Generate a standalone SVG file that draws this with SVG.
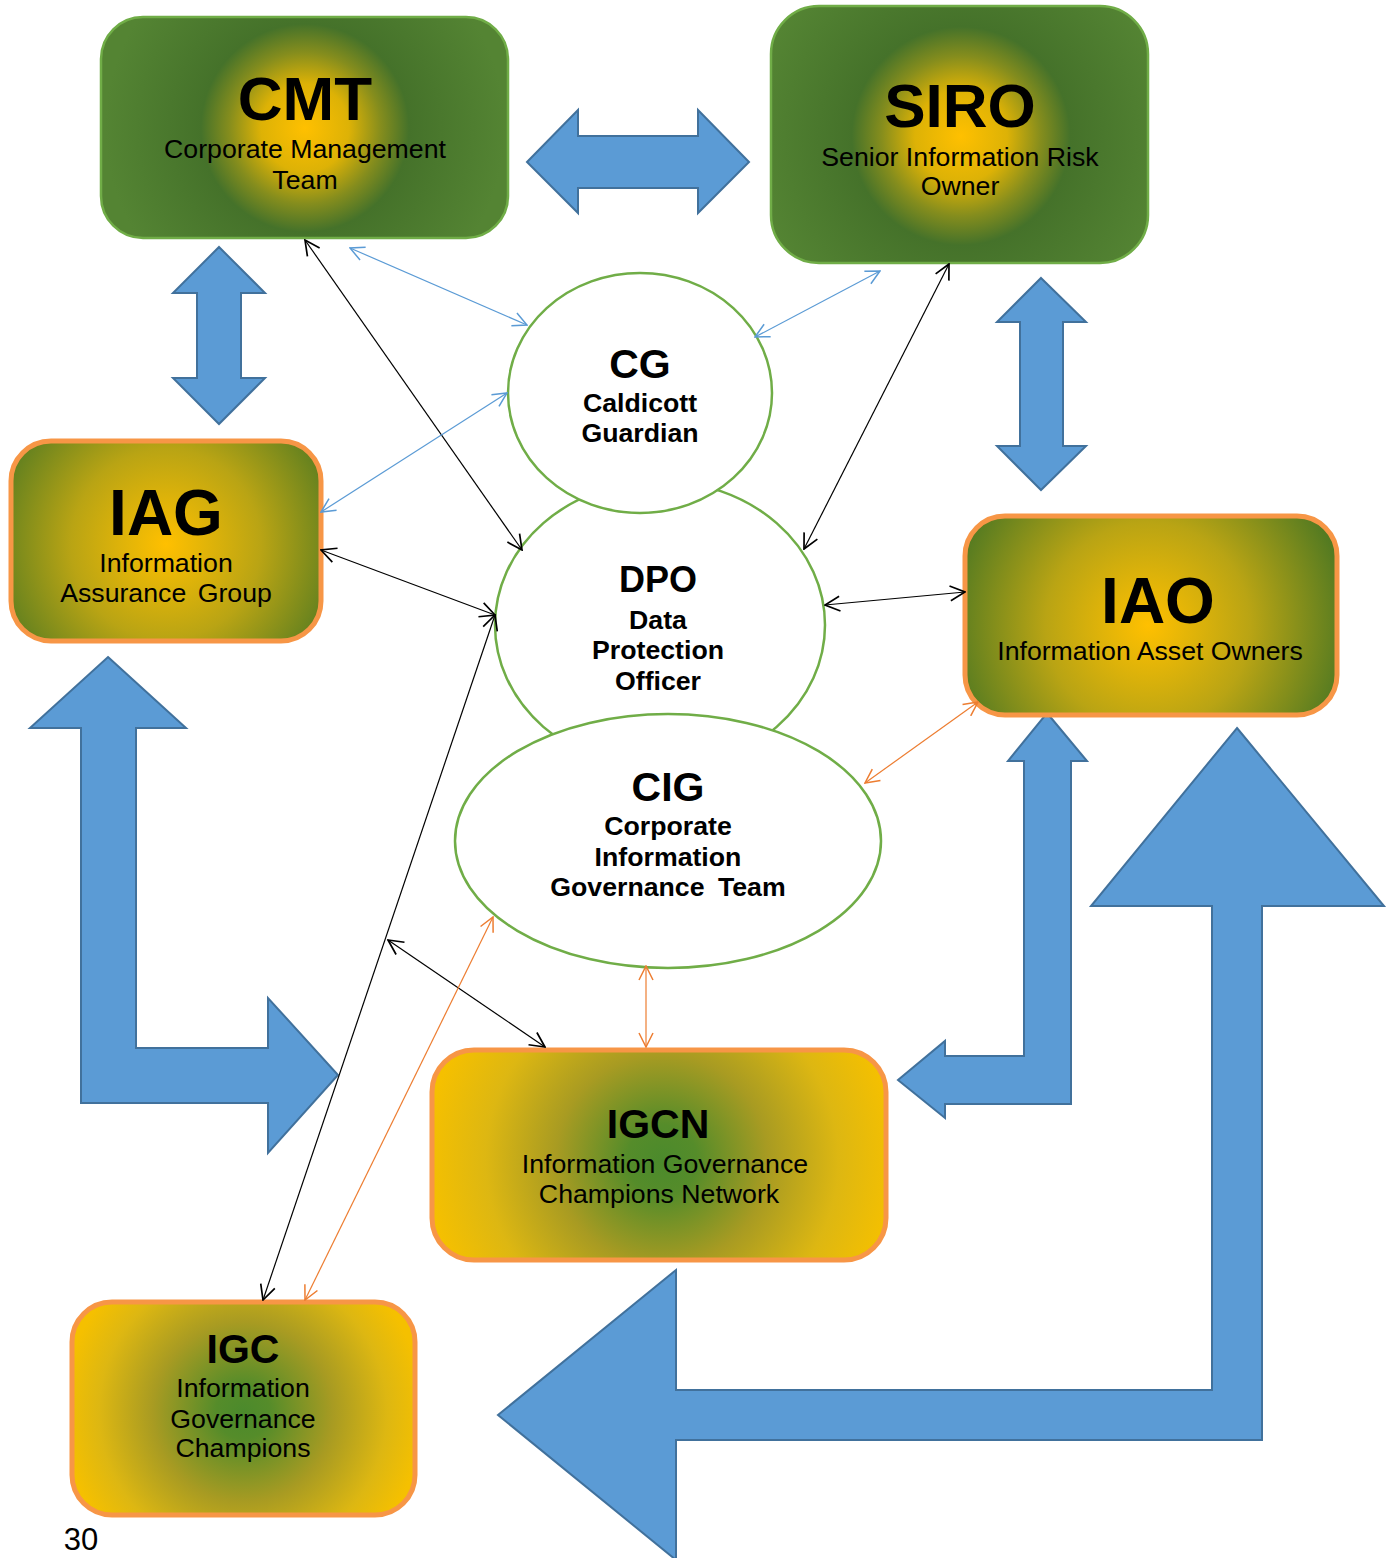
<svg xmlns="http://www.w3.org/2000/svg" width="1387" height="1558" viewBox="0 0 1387 1558">
<style>
.t{font-family:"Liberation Sans",Arial,sans-serif;fill:#000;text-anchor:middle}
.b{font-weight:bold}
.sub{font-size:26.7px}
.bigarrow{fill:#5B9BD5;stroke:#41719C;stroke-width:2;stroke-linejoin:miter}
.gbox{stroke:#70AD47;stroke-width:2.5}
.obox{stroke:#F79646;stroke-width:5}
.ell{fill:#fff;stroke:#70AD47;stroke-width:2.5}
.ck{stroke:#000;stroke-width:1.2;fill:none;marker-start:url(#mk);marker-end:url(#mk)}
.cb{stroke:#5B9BD5;stroke-width:1.2;fill:none;marker-start:url(#mb);marker-end:url(#mb)}
.co{stroke:#ED7D31;stroke-width:1.2;fill:none;marker-start:url(#mo);marker-end:url(#mo)}
</style>
<defs>
<marker id="mk" viewBox="0 0 16 16" refX="15" refY="8" markerWidth="17" markerHeight="17" markerUnits="userSpaceOnUse" orient="auto-start-reverse"><path d="M1,1 L15,8 L1,15" fill="none" stroke="#000" stroke-width="1.6"/></marker>
<marker id="mb" viewBox="0 0 16 16" refX="15" refY="8" markerWidth="16" markerHeight="16" markerUnits="userSpaceOnUse" orient="auto-start-reverse"><path d="M1,1 L15,8 L1,15" fill="none" stroke="#5B9BD5" stroke-width="1.5"/></marker>
<marker id="mo" viewBox="0 0 16 16" refX="15" refY="8" markerWidth="16" markerHeight="16" markerUnits="userSpaceOnUse" orient="auto-start-reverse"><path d="M1,1 L15,8 L1,15" fill="none" stroke="#ED7D31" stroke-width="1.5"/></marker>
<radialGradient id="gCMT" gradientUnits="userSpaceOnUse" cx="305" cy="128" r="200">
<stop offset="0" stop-color="#FFC000"/><stop offset="0.22" stop-color="#DDB206"/><stop offset="0.38" stop-color="#858D1D"/><stop offset="0.52" stop-color="#45722A"/><stop offset="1" stop-color="#548433"/>
</radialGradient>
<radialGradient id="gSIRO" gradientUnits="userSpaceOnUse" cx="961" cy="136" r="210">
<stop offset="0" stop-color="#FFC000"/><stop offset="0.22" stop-color="#DDB206"/><stop offset="0.38" stop-color="#858D1D"/><stop offset="0.52" stop-color="#45722A"/><stop offset="1" stop-color="#548433"/>
</radialGradient>
<radialGradient id="gIAG" gradientUnits="userSpaceOnUse" cx="166" cy="544" r="190">
<stop offset="0" stop-color="#FFC000"/><stop offset="0.5" stop-color="#B9A414"/><stop offset="1" stop-color="#4E7822"/>
</radialGradient>
<radialGradient id="gIAO" gradientUnits="userSpaceOnUse" cx="1148" cy="625" r="205">
<stop offset="0" stop-color="#FFC000"/><stop offset="0.5" stop-color="#B9A414"/><stop offset="1" stop-color="#4E7822"/>
</radialGradient>
<radialGradient id="gIGCN" gradientUnits="userSpaceOnUse" cx="662" cy="1160" r="235">
<stop offset="0" stop-color="#4B8A2C"/><stop offset="0.15" stop-color="#558C2A"/><stop offset="0.45" stop-color="#A89B22"/><stop offset="0.75" stop-color="#DDB712"/><stop offset="1" stop-color="#F5C000"/>
</radialGradient>
<radialGradient id="gIGC" gradientUnits="userSpaceOnUse" cx="243" cy="1412" r="180">
<stop offset="0" stop-color="#4B8A2C"/><stop offset="0.15" stop-color="#558C2A"/><stop offset="0.5" stop-color="#A89B22"/><stop offset="0.8" stop-color="#DDB712"/><stop offset="1" stop-color="#F5C000"/>
</radialGradient>
</defs>

<g id="block-arrows">
<polygon class="bigarrow" points="527,162 578,110 578,136 698,136 698,110 749,162 698,213 698,188 578,188 578,213"/>
<polygon class="bigarrow" points="219,247 265,293 241,293 241,378 265,378 219,424 173,378 197,378 197,293 173,293"/>
<polygon class="bigarrow" points="1041,278 1086,322 1063,322 1063,446 1086,446 1041,490 997,446 1020,446 1020,322 997,322"/>
<polygon class="bigarrow" points="108,657 186,728 136,728 136,1048 268,1048 268,998 338,1075 268,1153 268,1103 81,1103 81,728 30,728"/>
<polygon class="bigarrow" points="1047,713 1087,761 1071,761 1071,1104 945,1104 945,1118 898,1080 945,1041 945,1056 1024,1056 1024,761 1008,761"/>
<polygon class="bigarrow" points="1237,728 1384,906 1262,906 1262,1440 676,1440 676,1560 498,1415 676,1270 676,1390 1212,1390 1212,906 1091,906"/>
</g>

<g id="CMT">
<rect class="gbox" x="101" y="17" width="407" height="221" rx="42" fill="url(#gCMT)"/>
<text class="t b" x="305" y="120" font-size="62">CMT</text>
<text class="t sub" x="305" y="158">Corporate Management</text>
<text class="t sub" x="305" y="189">Team</text>
</g>

<g id="SIRO">
<rect class="gbox" x="771" y="6" width="377" height="257" rx="48" fill="url(#gSIRO)"/>
<text class="t b" x="960" y="127" font-size="62">SIRO</text>
<text class="t sub" x="960" y="166">Senior Information Risk</text>
<text class="t sub" x="960" y="195">Owner</text>
</g>

<g id="IAG">
<rect class="obox" x="11" y="441" width="310" height="200" rx="40" fill="url(#gIAG)"/>
<text class="t b" x="166" y="535" font-size="64">IAG</text>
<text class="t sub" x="166" y="572">Information</text>
<text class="t sub" x="166" y="602" word-spacing="4">Assurance Group</text>
</g>

<g id="IAO">
<rect class="obox" x="965" y="516" width="372" height="199" rx="40" fill="url(#gIAO)"/>
<text class="t b" x="1158" y="623" font-size="64">IAO</text>
<text class="t sub" x="1150" y="660">Information Asset Owners</text>
</g>

<g id="DPO">
<ellipse class="ell" cx="660" cy="625" rx="165" ry="144"/>
<text class="t b" x="658" y="592" font-size="36">DPO</text>
<text class="t b sub" x="658" y="629">Data</text>
<text class="t b sub" x="658" y="659">Protection</text>
<text class="t b sub" x="658" y="690">Officer</text>
</g>

<g id="CG">
<ellipse class="ell" cx="640" cy="393" rx="132" ry="120"/>
<text class="t b" x="640" y="378" font-size="41">CG</text>
<text class="t b sub" x="640" y="412">Caldicott</text>
<text class="t b sub" x="640" y="442">Guardian</text>
</g>

<g id="CIG">
<ellipse class="ell" cx="668" cy="841" rx="213" ry="127"/>
<text class="t b" x="668" y="801" font-size="41">CIG</text>
<text class="t b sub" x="668" y="835">Corporate</text>
<text class="t b sub" x="668" y="866">Information</text>
<text class="t b sub" x="668" y="896" word-spacing="6">Governance Team</text>
</g>

<g id="IGCN">
<rect class="obox" x="432" y="1050" width="454" height="210" rx="42" fill="url(#gIGCN)"/>
<text class="t b" x="658" y="1138" font-size="41">IGCN</text>
<text class="t sub" x="665" y="1173">Information Governance</text>
<text class="t sub" x="659" y="1203">Champions Network</text>
</g>

<g id="IGC">
<rect class="obox" x="72" y="1302" width="343" height="213" rx="40" fill="url(#gIGC)"/>
<text class="t b" x="243" y="1363" font-size="41">IGC</text>
<text class="t sub" x="243" y="1397">Information</text>
<text class="t sub" x="243" y="1428">Governance</text>
<text class="t sub" x="243" y="1457">Champions</text>
</g>

<g id="connectors">
<line class="ck" x1="305" y1="240" x2="522" y2="550"/>
<line class="cb" x1="350" y1="248" x2="527" y2="325"/>
<line class="cb" x1="755" y1="337" x2="880" y2="271"/>
<line class="ck" x1="949" y1="264" x2="804" y2="549"/>
<line class="cb" x1="321" y1="512" x2="507" y2="393"/>
<line class="ck" x1="321" y1="550" x2="495" y2="615"/>
<line class="ck" x1="825" y1="605" x2="965" y2="592"/>
<line class="co" x1="978" y1="702" x2="865" y2="783"/>
<line class="co" x1="646" y1="966" x2="646" y2="1047"/>
<line class="ck" x1="388" y1="940" x2="545" y2="1047"/>
<line class="ck" x1="495" y1="615" x2="263" y2="1300"/>
<line class="co" x1="493" y1="917" x2="305" y2="1300"/>
</g>

<text class="t" x="81" y="1550" font-size="31">30</text>
</svg>
